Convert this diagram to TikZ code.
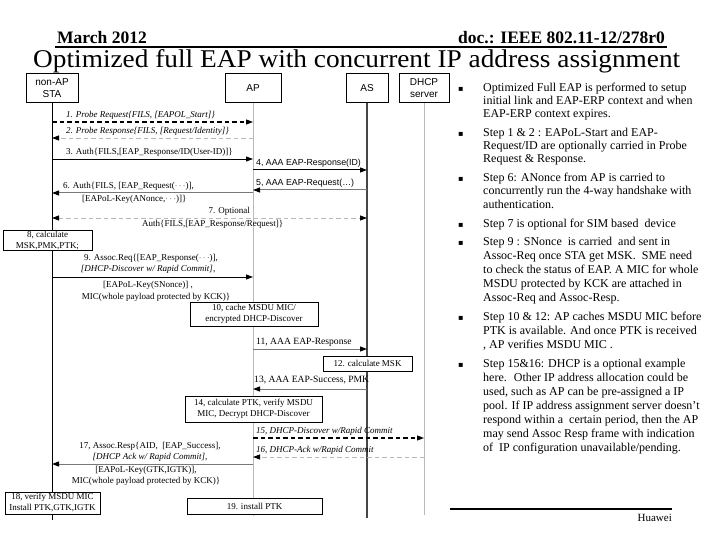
\documentclass[tikz,border=0pt]{standalone}
\usepackage{fontspec}
\setmainfont{Liberation Serif}
\setsansfont{Liberation Sans}
\newfontfamily\symfont{DejaVu Sans}
\usetikzlibrary{arrows.meta}
\definecolor{lgray}{RGB}{185,185,185}
\definecolor{mgray}{RGB}{120,120,120}
\definecolor{dgray}{RGB}{70,70,70}
\newcommand{\mydots}{\ensuremath{\cdots}}
\begin{document}
\begin{tikzpicture}[x=1pt,y=-1pt,
  lifehead/.style={draw=black, line width=0.6pt, fill=white, font=\sffamily\fontsize{10}{12}\selectfont, align=center, inner sep=0pt, minimum height=29pt},
  msg/.style={inner sep=0pt, font=\fontsize{9}{10}\selectfont},
  msgbig/.style={inner sep=0pt, font=\fontsize{9.6}{10}\selectfont},
  msgit/.style={inner sep=0pt, font=\itshape\fontsize{9}{10}\selectfont},
  msgsf/.style={inner sep=0pt, font=\sffamily\fontsize{8.8}{10}\selectfont},
  actbox/.style={draw=black, line width=0.6pt, fill=white, inner sep=0pt, align=center, font=\fontsize{9}{11}\selectfont},
  arr/.style={-{Triangle[length=7pt,width=5pt,color=black]}},
  darr/.style={{Triangle[length=7pt,width=5pt,color=black]}-{Triangle[length=7pt,width=5pt,color=black]}},
  dsh/.style={dash pattern=on 4.5pt off 3pt},
  bodytxt/.style={anchor=base west, inner sep=0pt, font=\fontsize{12}{13}\selectfont},
  bul/.style={anchor=base west, inner sep=0pt, font=\symfont\fontsize{8}{9}\selectfont}
]
\useasboundingbox[fill=white] (0,0) rectangle (720,540);

% header
\node[anchor=base west, inner sep=0pt, font=\bfseries\fontsize{17.5}{19}\selectfont] (hdate) at (57,44) {March 2012};
\node[anchor=base east, inner sep=0pt, font=\bfseries\fontsize{17.5}{19}\selectfont] (hdoc) at (665,44) {doc.: IEEE 802.11-12/278r0};
\coordinate (hl1) at (55,47.5);
\coordinate (hl2) at (667,47.5);
\draw[line width=2pt] (hl1) -- (hl2);
\node[anchor=base west, inner sep=0pt] (title) at (33,68) {\resizebox{647pt}{18pt}{Optimized full EAP with concurrent IP address assignment}};

% lifeline heads
\node[lifehead, minimum width=52pt] (sta) at (52,88) {non-AP\\STA};
\node[lifehead, minimum width=56pt] (ap) at (253,88) {AP};
\node[lifehead, minimum width=42pt] (as) at (367,88) {AS};
\node[lifehead, minimum width=50pt] (dhcp) at (424,88) {DHCP\\server};
\coordinate (staE) at (52,520);
\coordinate (apE) at (253,516);
\coordinate (asE) at (367,518);
\coordinate (dhcpE) at (424,515);
\draw[line width=1pt, black] (sta.south) -- (staE);
\draw[line width=0.8pt, lgray] (ap.south) -- (apE);
\draw[line width=1.6pt, dgray] (as.south) -- (asE);
\draw[line width=0.8pt, lgray] (dhcp.south) -- (dhcpE);

% message end points
\coordinate (s1) at (52,122);  \coordinate (a1) at (253,122);
\coordinate (s2) at (52,138);  \coordinate (a2) at (253,138);
\coordinate (s3) at (52,159);  \coordinate (a3) at (253,159);
\coordinate (a4) at (253,170); \coordinate (b4) at (367,170);
\coordinate (a5) at (253,190); \coordinate (b5) at (367,190);
\coordinate (s6) at (52,193);  \coordinate (a6) at (253,193);
\coordinate (s7) at (52,218);  \coordinate (b7) at (367,218);
\coordinate (s9) at (52,277);  \coordinate (a9) at (253,277);
\coordinate (a11) at (253,349); \coordinate (b11) at (367,349);
\coordinate (a13) at (253,389); \coordinate (b13) at (367,389);
\coordinate (a15) at (253,438); \coordinate (d15) at (424,438);
\coordinate (a16) at (253,457); \coordinate (d16) at (424,457);
\coordinate (s17) at (52,464); \coordinate (a17) at (253,464);

\draw[arr, dsh, line width=1.1pt, black] (s1) -- (a1);
\draw[arr, dsh, line width=0.8pt, lgray] (a2) -- (s2);
\draw[arr, line width=0.8pt, black] (s3) -- (a3);
\draw[arr, line width=1pt, black] (a4) -- (b4);
\draw[arr, line width=1pt, mgray] (b5) -- (a5);
\draw[arr, line width=1pt, mgray] (a6) -- (s6);
\draw[darr, dsh, line width=0.8pt, lgray] (s7) -- (b7);
\draw[arr, line width=1pt, black] (s9) -- (a9);
\draw[arr, line width=1pt, mgray] (a11) -- (b11);
\draw[arr, line width=1pt, mgray] (b13) -- (a13);
\draw[arr, dsh, line width=1.1pt, black] (a15) -- (d15);
\draw[arr, dsh, line width=0.8pt, lgray] (d16) -- (a16);
\draw[arr, line width=1pt, mgray] (a17) -- (s17);

% message labels
\node[msgit, anchor=west] (l1) at (66,115) {1. Probe Request\{FILS, [EAPOL\_Start]\}};
\node[msgit, anchor=west] (l2) at (66,131) {2. Probe Response\{FILS, [Request/Identity]\}};
\node[msg, anchor=west] (l3) at (66,152) {3. Auth\{FILS,[EAP\_Response/ID(User-ID)]\}};
\node[msgsf, anchor=west] (l4) at (256,163) {4, AAA EAP-Response(ID)};
\node[msgsf, anchor=west] (l5) at (256,183) {5, AAA EAP-Request(\ldots)};
\node[msg, anchor=west] (l6a) at (63,186) {6. Auth\{FILS, [EAP\_Request(\mydots)],};
\node[msg, anchor=west] (l6b) at (82,199) {[EAPoL-Key(ANonce,\mydots)]\}};
\node[msg, anchor=east] (l7a) at (250,211) {7. Optional};
\node[msg, anchor=west] (l7b) at (142,224) {Auth\{FILS,[EAP\_Response/Request]\}};
\node[actbox, minimum width=89pt, minimum height=20pt] (b8) at (47.5,240.5) {8, calculate\\MSK,PMK,PTK;};
\node[msg] (l9a) at (151,258) {9. Assoc.Req\{[EAP\_Response(\mydots)],};
\node[msgit] (l9b) at (148,269) {[DHCP-Discover w/ Rapid Commit],};
\node[msg] (l9c) at (148,285) {[EAPoL-Key(SNonce)] ,};
\node[msg] (l9d) at (156,297) {MIC(whole payload protected by KCK)\}};
\node[actbox, minimum width=128pt, minimum height=24pt] (b10) at (254,314) {10, cache MSDU MIC/\\encrypted DHCP-Discover};
\node[msgbig, anchor=west] (l11) at (256,342) {11, AAA EAP-Response};
\node[actbox, minimum width=89pt, minimum height=15pt] (b12) at (367.5,363.5) {12. calculate MSK};
\node[msgbig, anchor=west] (l13) at (254,380) {13, AAA EAP-Success, PMK};
\node[actbox, minimum width=137pt, minimum height=26pt] (b14) at (253.5,409) {14, calculate PTK, verify MSDU\\MIC, Decrypt DHCP-Discover};
\node[msgit, anchor=west] (l15) at (256,431) {15, DHCP-Discover w/Rapid Commit};
\node[msgit, anchor=west] (l16) at (256,450) {16, DHCP-Ack w/Rapid Commit};
\node[msg] (l17a) at (150,446) {17, Assoc.Resp\{AID, \ [EAP\_Success],};
\node[msgit] (l17b) at (150,457) {[DHCP Ack w/ Rapid Commit],};
\node[msg] (l17c) at (146,470) {[EAPoL-Key(GTK,IGTK)],};
\node[msg] (l17d) at (146,481) {MIC(whole payload protected by KCK)\}};
\node[actbox, minimum width=95pt, minimum height=22pt] (b18) at (52.5,503) {18, verify MSDU MIC\\Install PTK,GTK,IGTK};
\node[actbox, minimum width=135pt, minimum height=16pt] (b19) at (254.5,506) {19. install PTK};

% right column
\node[bul] (u1) at (458,92) {▪};
\node[bodytxt] (t1a) at (483,92) {Optimized Full EAP is performed to setup};
\node[bodytxt] (t1b) at (483,105) {initial link and EAP-ERP context and when};
\node[bodytxt] (t1c) at (483,118) {EAP-ERP context expires.};
\node[bul] (u2) at (458,137) {▪};
\node[bodytxt] (t2a) at (483,137) {Step 1 \& 2 : EAPoL-Start and EAP-};
\node[bodytxt] (t2b) at (483,150) {Request/ID are optionally carried in Probe};
\node[bodytxt] (t2c) at (483,163) {Request \& Response.};
\node[bul] (u3) at (458,182) {▪};
\node[bodytxt] (t3a) at (483,182) {Step 6: ANonce from AP is carried to};
\node[bodytxt] (t3b) at (483,195) {concurrently run the 4-way handshake with};
\node[bodytxt] (t3c) at (483,208) {authentication.};
\node[bul] (u4) at (458,228) {▪};
\node[bodytxt] (t4a) at (483,228) {Step 7 is optional for SIM based \ device};
\node[bul] (u5) at (458,245) {▪};
\node[bodytxt] (t5a) at (483,245) {Step 9 : SNonce \ is carried \ and sent in};
\node[bodytxt] (t5b) at (483,259) {Assoc-Req once STA get MSK. \ SME need};
\node[bodytxt] (t5c) at (483,273) {to check the status of EAP. A MIC for whole};
\node[bodytxt] (t5d) at (483,287) {MSDU protected by KCK are attached in};
\node[bodytxt] (t5e) at (483,301) {Assoc-Req and Assoc-Resp.};
\node[bul] (u6) at (458,320) {▪};
\node[bodytxt] (t6a) at (483,320) {Step 10 \& 12: AP caches MSDU MIC before};
\node[bodytxt] (t6b) at (483,334) {PTK is available. And once PTK is received};
\node[bodytxt] (t6c) at (483,348) {, AP verifies MSDU MIC .};
\node[bul] (u7) at (458,367) {▪};
\node[bodytxt] (t7a) at (483,367) {Step 15\&16: DHCP is a optional example};
\node[bodytxt] (t7b) at (483,381) {here. \ Other IP address allocation could be};
\node[bodytxt] (t7c) at (483,395) {used, such as AP can be pre-assigned a IP};
\node[bodytxt] (t7d) at (483,409) {pool. If IP address assignment server doesn’t};
\node[bodytxt] (t7e) at (483,423) {respond within a \ certain period, then the AP};
\node[bodytxt] (t7f) at (483,437) {may send Assoc Resp frame with indication};
\node[bodytxt] (t7g) at (483,451) {of \ IP configuration unavailable/pending.};

% footer
\coordinate (fl1) at (450,509);
\coordinate (fl2) at (672,509);
\draw[line width=1.6pt] (fl1) -- (fl2);
\node[anchor=base east, inner sep=0pt, font=\fontsize{11}{12}\selectfont] (foot) at (672,521) {Huawei};
\end{tikzpicture}
\end{document}
